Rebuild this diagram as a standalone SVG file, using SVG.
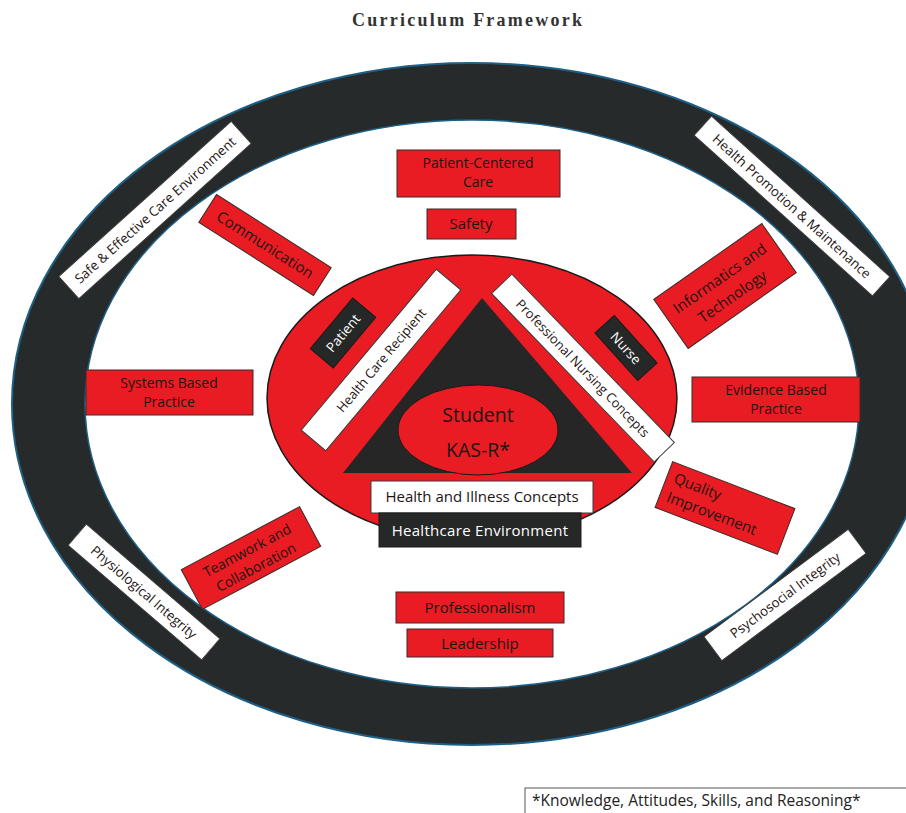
<svg xmlns="http://www.w3.org/2000/svg" width="906" height="813" viewBox="0 0 906 813">
<style>
  .t{font-family:"Open Sans","Liberation Sans",sans-serif;font-size:15px;fill:#1e1414;}
  .m{font-size:14px;}
  .b{font-size:13.3px;}
  .w{fill:#ffffff;}
  .red{fill:#e81c22;stroke:#3a2a2a;stroke-width:1;}
  .wht{fill:#ffffff;stroke:#3a3a3a;stroke-width:1;}
  .drk{fill:#262828;stroke:#1a1a1a;stroke-width:1;}
  .c{text-anchor:middle;}
</style>
<rect width="906" height="813" fill="#ffffff"/>
<text x="467" y="26" text-anchor="middle" font-family="'Liberation Serif',serif" font-weight="bold" font-size="18" fill="#333" textLength="230">Curriculum Framework</text>

<g id="ring">
  <ellipse cx="472" cy="404" rx="460" ry="341" fill="#262a2b" stroke="#1e5f86" stroke-width="2"/>
  <ellipse cx="472" cy="404" rx="387" ry="284" fill="#ffffff" stroke="#1e5f86" stroke-width="1.5"/>
</g>

<g id="core">
  <ellipse cx="472" cy="398" rx="205" ry="143" fill="#e81c22" stroke="#1a1a1a" stroke-width="1.5"/>
  <polygon points="482,298 632,473 343,473" fill="#262626"/>
  <ellipse cx="478" cy="430" rx="80" ry="45" fill="#e81c22" stroke="#1a1a1a" stroke-width="1"/>
  <text class="t c" x="478" y="422" style="font-size:19.5px">Student</text>
  <text class="t c" x="478" y="457" style="font-size:19.5px">KAS-R*</text>
</g>

<g id="health-care-recipient" transform="translate(381,360) rotate(-50)">
  <rect class="wht" x="-105" y="-16" width="210" height="32"/>
  <text class="t c" x="0" y="5" style="font-size:13px">Health Care Recipient</text>
</g>
<g id="professional-nursing-concepts" transform="translate(583,368) rotate(46)">
  <rect class="wht" x="-117" y="-14" width="234" height="28"/>
  <text class="t c" x="0" y="5" style="font-size:13px">Professional Nursing Concepts</text>
</g>
<g id="patient" transform="translate(343,333) rotate(-50)">
  <rect class="drk" x="-33" y="-15" width="66" height="30"/>
  <text class="t c w" x="0" y="5" style="font-size:13.5px">Patient</text>
</g>
<g id="nurse" transform="translate(626,348) rotate(48)">
  <rect class="drk" x="-32" y="-13" width="64" height="26"/>
  <text class="t c w" x="0" y="5" style="font-size:13.5px">Nurse</text>
</g>
<g id="health-illness-concepts">
  <rect class="wht" x="371" y="481" width="222" height="32"/>
  <text class="t c" x="482" y="502">Health and Illness Concepts</text>
</g>
<g id="healthcare-environment">
  <rect class="drk" x="379" y="513" width="202" height="34"/>
  <text class="t c w" x="480" y="535.5" letter-spacing="0.3">Healthcare Environment</text>
</g>

<g id="patient-centered-care">
  <rect class="red" x="397" y="150" width="163" height="47"/>
  <text class="t c m" x="478" y="167.5">Patient-Centered</text>
  <text class="t c m" x="478" y="186.5">Care</text>
</g>
<g id="safety">
  <rect class="red" x="427" y="209" width="89" height="30"/>
  <text class="t c" x="471" y="229">Safety</text>
</g>
<g id="systems-based-practice">
  <rect class="red" x="86" y="370" width="167" height="45"/>
  <text class="t c m" x="169" y="387.5">Systems Based</text>
  <text class="t c m" x="169" y="406.5">Practice</text>
</g>
<g id="evidence-based-practice">
  <rect class="red" x="692" y="377" width="168" height="45"/>
  <text class="t c m" x="776" y="395">Evidence Based</text>
  <text class="t c m" x="776" y="414">Practice</text>
</g>
<g id="professionalism">
  <rect class="red" x="396" y="592" width="168" height="31"/>
  <text class="t c" x="480" y="612.5">Professionalism</text>
</g>
<g id="leadership">
  <rect class="red" x="407" y="629" width="146" height="28"/>
  <text class="t c" x="480" y="648.5">Leadership</text>
</g>
<g id="communication" transform="translate(265,245) rotate(32.5)">
  <rect class="red" x="-68" y="-16.5" width="136" height="33"/>
  <text class="t c" x="0" y="5">Communication</text>
</g>
<g id="informatics-technology" transform="translate(725,286) rotate(-35)">
  <rect class="red" x="-66" y="-30" width="132" height="60"/>
  <text class="t c" x="0" y="-4">Informatics and</text>
  <text class="t c" x="0" y="18">Technology</text>
</g>
<g id="quality-improvement" transform="translate(725,508) rotate(21)">
  <rect class="red" x="-65.5" y="-24.5" width="131" height="49"/>
  <text class="t" x="-58" y="-5">Quality</text>
  <text class="t" x="-58" y="15">Improvement</text>
</g>
<g id="teamwork-collaboration" transform="translate(251,558) rotate(-28)">
  <rect class="red" x="-67" y="-22.5" width="134" height="45"/>
  <text class="t c m" x="0" y="-3.5">Teamwork and</text>
  <text class="t c m" x="0" y="15.5">Collaboration</text>
</g>

<g id="safe-effective-care-environment" transform="translate(155,210) rotate(-42)">
  <rect class="wht" x="-116" y="-15" width="232" height="30"/>
  <text class="t c b" x="0" y="5">Safe &amp; Effective Care Environment</text>
</g>
<g id="health-promotion-maintenance" transform="translate(792,206) rotate(42)">
  <rect class="wht" x="-120" y="-13" width="240" height="26"/>
  <text class="t c b" x="0" y="5">Health Promotion &amp; Maintenance</text>
</g>
<g id="physiological-integrity" transform="translate(144,592) rotate(40.6)">
  <rect class="wht" x="-88" y="-14" width="176" height="28"/>
  <text class="t c b" x="0" y="5">Physiological Integrity</text>
</g>
<g id="psychosocial-integrity" transform="translate(785,595) rotate(-36.7)">
  <rect class="wht" x="-90" y="-15" width="180" height="30"/>
  <text class="t c b" x="0" y="5">Psychosocial Integrity</text>
</g>

<g id="connectors"></g>

<g id="footnote">
  <rect x="525" y="788" width="400" height="40" fill="#ffffff" stroke="#555" stroke-width="1"/>
  <text class="t" x="532" y="806" style="font-size:15.5px;fill:#222">*Knowledge, Attitudes, Skills, and Reasoning*</text>
</g>
</svg>
